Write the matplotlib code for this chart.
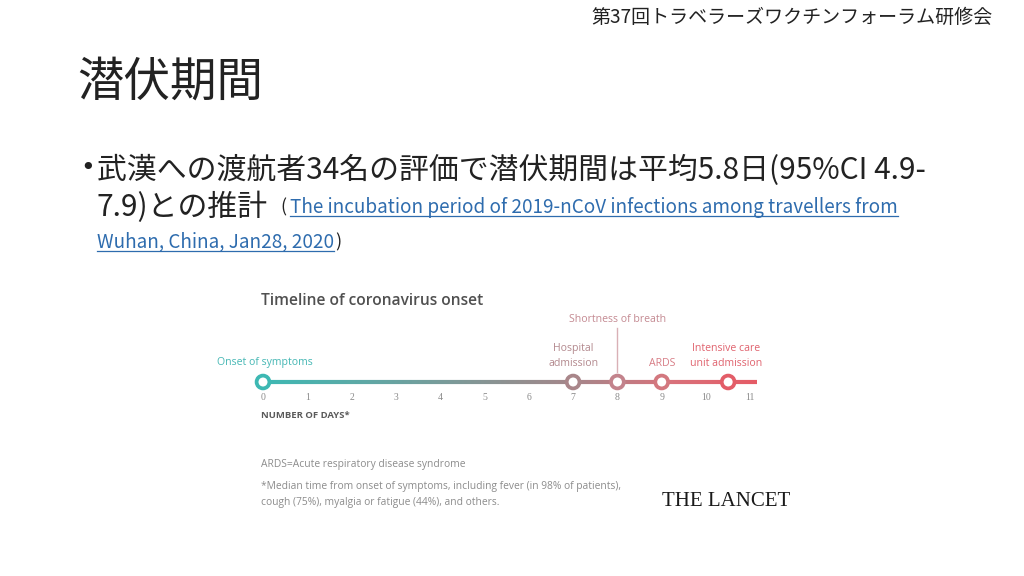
import numpy as np
import matplotlib
matplotlib.use("Agg")
import matplotlib.pyplot as plt
from matplotlib.collections import LineCollection
from matplotlib.colors import LinearSegmentedColormap

plt.rcParams['font.family'] = ['Noto Sans CJK JP', 'DejaVu Sans']

# スライドの文字
header = "第37回トラベラーズワクチンフォーラム研修会"
title = "潜伏期間"
bullet_1 = "武漢への渡航者34名の評価で潜伏期間は平均5.8日(95%CI 4.9-"
bullet_2 = "7.9)との推計"
link_1 = "The incubation period of 2019-nCoV infections among travellers from"
link_2 = "Wuhan, China, Jan28, 2020"

# タイムラインのデータ（日数）
day_ticks = list(range(0, 12))
event_days = [0, 7, 8, 9, 10.5]
event_labels = ["Onset of symptoms", "Hospital\nadmission", "Shortness of breath",
                "ARDS", "Intensive care\nunit admission"]
event_colors = ["#3db8b3", "#a9868a", "#c3838c", "#d3787f", "#e35d68"]
label_colors = ["#45b7b4", "#b3898e", "#c48a92", "#d77c85", "#e0636e"]
line_end = 11.15

chart_title = "Timeline of coronavirus onset"
axis_note = "NUMBER OF DAYS*"
foot_1 = "ARDS=Acute respiratory disease syndrome"
foot_2 = "*Median time from onset of symptoms, including fever (in 98% of patients),"
foot_3 = "cough (75%), myalgia or fatigue (44%), and others."

W, H = 1024, 576
fig = plt.figure(figsize=(W / 100, H / 100), dpi=100)
fig.patch.set_facecolor("white")


def px(x, y):
    return x / W, 1 - y / H


fig.text(*px(993, 17), header, fontsize=13.7, ha="right", va="center", color="#222222")
fig.text(*px(77, 82), title, fontsize=33.5, ha="left", va="center", color="#222222")
fig.text(*px(80, 168), "•", fontsize=18, ha="left", va="center", color="#222222",
         family=['DejaVu Sans'])
fig.text(*px(97, 170), bullet_1, fontsize=21.5, ha="left", va="center", color="#222222")
fig.text(*px(97, 207), bullet_2, fontsize=21.5, ha="left", va="center", color="#222222")

link_col = "#2e6cae"
fig.text(*px(280, 207), "(", fontsize=13, ha="left", va="center", color="#222222")
t1 = fig.text(*px(290, 207), link_1, fontsize=13.6, ha="left", va="center", color=link_col)
t2 = fig.text(*px(97, 242), link_2, fontsize=13.6, ha="left", va="center", color=link_col)
t3 = fig.text(*px(333, 242), ")", fontsize=13, ha="left", va="center", color="#222222")

# 下線
fig.canvas.draw()
r = fig.canvas.get_renderer()
for t in (t1, t2):
    bb = t.get_window_extent(r)
    y0 = bb.y0 + 2
    fig.add_artist(plt.Line2D([bb.x0 / W, bb.x1 / W], [y0 / H, y0 / H],
                              transform=fig.transFigure, color=link_col, lw=0.9))
bb2 = t2.get_window_extent(r)
t3.set_position((bb2.x1 / W + 0.001, 1 - 242 / H))

# タイムライン部分
px_per_day = 44.3
x_zero = 263
ax_l, ax_r, ax_t, ax_b = 200, 800, 280, 520
ax = fig.add_axes([ax_l / W, 1 - ax_b / H, (ax_r - ax_l) / W, (ax_b - ax_t) / H])
ax.set_xlim((ax_l - x_zero) / px_per_day, (ax_r - x_zero) / px_per_day)
ax.set_ylim(ax_b, ax_t)
ax.axis("off")

x_left = (261 - x_zero) / px_per_day
ax.text(x_left, 301, chart_title, fontsize=11.2, fontweight="semibold", color="#505050",
        ha="left", va="center", family=['Open Sans', 'DejaVu Sans'])

cmap = LinearSegmentedColormap.from_list(
    "onset", [(0.0, "#3db8b3"), (0.5, "#8f9090"), (0.63, "#a5868a"),
              (0.82, "#d8727b"), (1.0, "#e55a65")])
xs = np.linspace(0, line_end, 200)
segs = [[(xs[i], 382), (xs[i + 1], 382)] for i in range(len(xs) - 1)]
lc = LineCollection(segs, colors=cmap(xs[:-1] / line_end), linewidths=3.0,
                    capstyle="butt")
ax.add_collection(lc)

ax.scatter(event_days, [382] * len(event_days), s=85, facecolor="white",
           edgecolor=event_colors, linewidths=2.7, zorder=5)

lab_font = ['Open Sans', 'DejaVu Sans']
lab_size = 7.6
ax.text(x_left - 1.0, 363, event_labels[0], fontsize=lab_size, color=label_colors[0],
        ha="left", va="center", family=lab_font)
ax.text(event_days[1], 356, event_labels[1], fontsize=lab_size, color=label_colors[1],
        ha="center", va="center", family=lab_font, linespacing=1.4)
ax.text(event_days[2], 320, event_labels[2], fontsize=lab_size, color=label_colors[2],
        ha="center", va="center", family=lab_font)
ax.plot([event_days[2], event_days[2]], [328, 372], color="#d9b0b6", lw=1)
ax.text(event_days[3], 363, event_labels[3], fontsize=lab_size, color=label_colors[3],
        ha="center", va="center", family=lab_font)
ax.text(event_days[4] - 0.05, 356, event_labels[4], fontsize=lab_size, color=label_colors[4],
        ha="center", va="center", family=lab_font, linespacing=1.4)

for d in day_ticks:
    ax.text(d, 398, str(d), fontsize=7, color="#8a8a8a", ha="center", va="center",
            family=['Liberation Serif', 'DejaVu Serif'])

ax.text(x_left, 415, axis_note, fontsize=6.8, fontweight="bold", color="#5a5a5a",
        ha="left", va="center", family=lab_font)

for y, s in zip([465, 487, 502], [foot_1, foot_2, foot_3]):
    ax.text(x_left, y, s, fontsize=7.4, color="#8c8c8c", ha="left", va="center",
            family=lab_font)

ax.text((662 - x_zero) / px_per_day, 501, "THE LANCET", fontsize=15, color="#1a1a1a",
        ha="left", va="center", family=['Liberation Serif', 'DejaVu Serif'])

fig.savefig("out.png", dpi=100, facecolor="white")
